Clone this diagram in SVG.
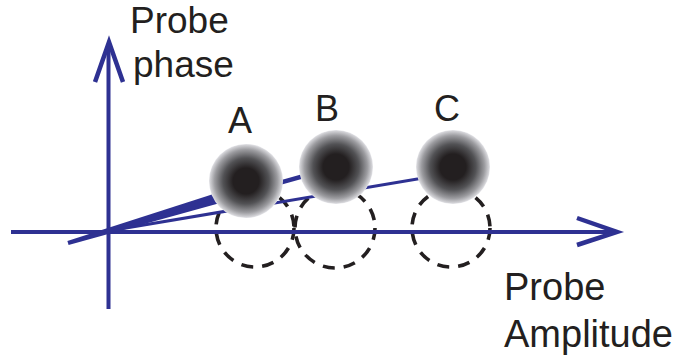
<svg xmlns="http://www.w3.org/2000/svg" width="679" height="360" viewBox="0 0 679 360">
  <style>
    .ax { stroke: #2e3192; stroke-width: 4; fill: none; }
    .head { stroke: #2e3192; stroke-width: 4.5; fill: none; stroke-linejoin: miter; }
    .ring { stroke: #231f20; stroke-width: 3.6; fill: none; stroke-dasharray: 12 9; }
    .lbl { font-family: "Liberation Sans", Arial, sans-serif; fill: #231f20; }
    .ball { fill: url(#g); }
  </style>
  <defs>
    <radialGradient id="g" cx="0.5" cy="0.5" r="0.5">
      <stop offset="0" stop-color="#231f20"/>
      <stop offset="0.35" stop-color="#231f20"/>
      <stop offset="0.62" stop-color="#525255"/>
      <stop offset="0.85" stop-color="#9c9ca0"/>
      <stop offset="0.97" stop-color="#d2d2d6"/>
      <stop offset="1" stop-color="#e6e6ea"/>
    </radialGradient>
  </defs>

  <g id="dashed-circles">
    <circle class="ring" cx="255" cy="228" r="39"/>
    <circle class="ring" cx="335" cy="228" r="40"/>
    <circle class="ring" cx="451" cy="228" r="39"/>
  </g>

  <g id="connectors">
    <line class="ax" x1="108.5" y1="309" x2="108.5" y2="44"/>
    <polyline class="head" points="95,82 109,42 123,82"/>
    <line class="ax" x1="11" y1="232" x2="615" y2="232"/>
    <polyline class="head" points="577,218 617,232 577,245"/>
    <line stroke="#2e3192" stroke-width="3" x1="108" y1="231" x2="453" y2="173"/>
    <line stroke="#2e3192" stroke-width="4.5" x1="108" y1="231" x2="336" y2="167"/>
    <polygon fill="#2e3192" points="67.4,241.1 238.3,186 241.7,197 68.6,244.9"/>
  </g>

  <g id="node-A">
    <circle class="ball" cx="246" cy="181" r="37"/>
    <text class="lbl" x="240" y="133" font-size="36" text-anchor="middle">A</text>
  </g>
  <g id="node-B">
    <circle class="ball" cx="336" cy="167" r="37"/>
    <text class="lbl" x="327" y="121" font-size="36" text-anchor="middle">B</text>
  </g>
  <g id="node-C">
    <circle class="ball" cx="453" cy="167" r="37"/>
    <text class="lbl" x="447" y="121" font-size="36" text-anchor="middle">C</text>
  </g>

  <g id="label-phase">
    <text class="lbl" x="130" y="33" font-size="37">Probe</text>
    <text class="lbl" x="133" y="77" font-size="37">phase</text>
  </g>
  <g id="label-amplitude">
    <text class="lbl" x="504" y="300" font-size="38">Probe</text>
    <text class="lbl" x="504" y="347" font-size="38">Amplitude</text>
  </g>
</svg>
